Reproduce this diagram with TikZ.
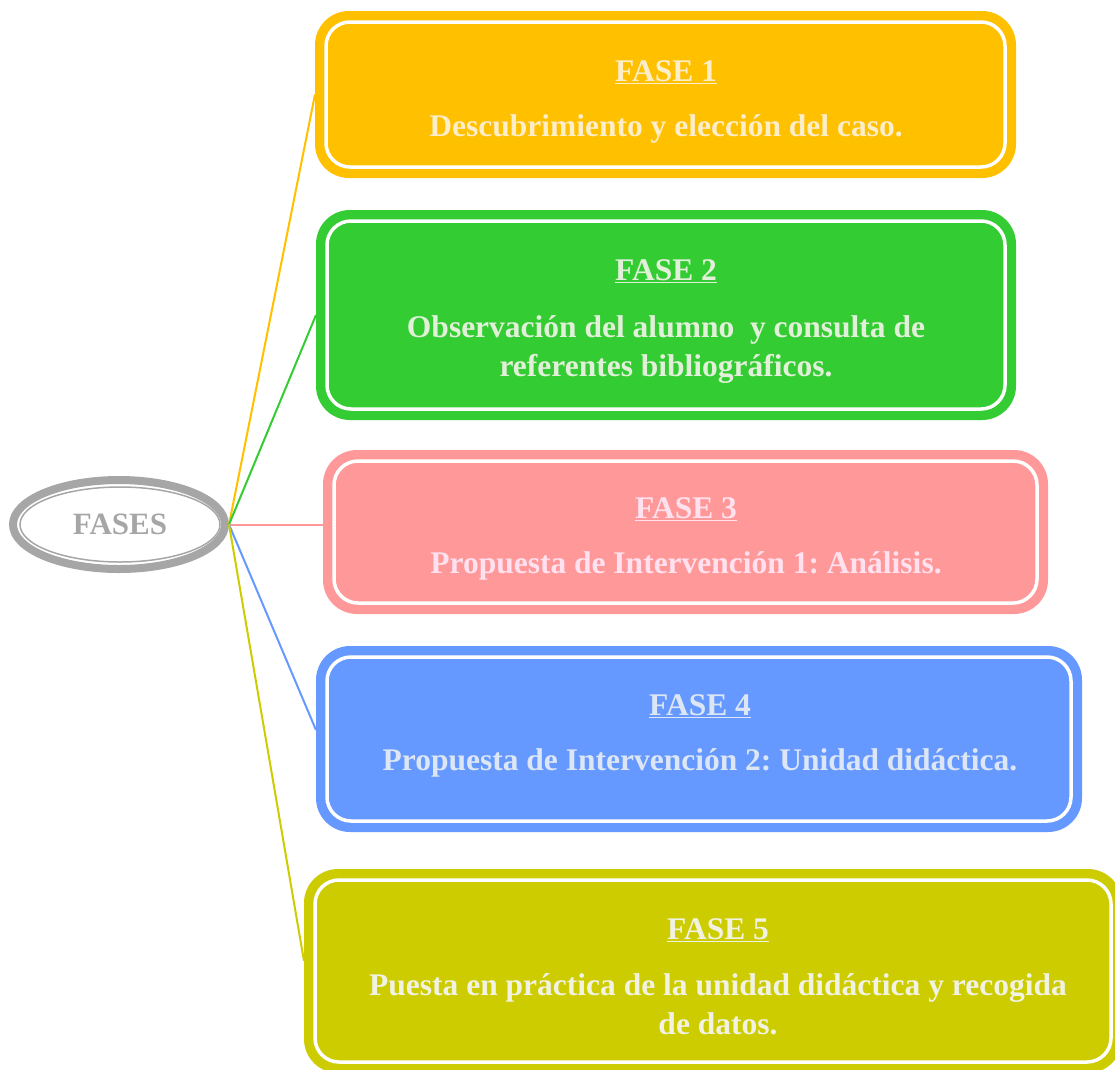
\documentclass[tikz,border=0pt]{standalone}
\usepackage{fontspec}
\setmainfont{Liberation Serif}
\usetikzlibrary{shapes.geometric}
\frenchspacing
\definecolor{grayc}{HTML}{A6A6A6}
\definecolor{cA}{HTML}{FFC000}\definecolor{tA}{HTML}{FDEDC8}
\definecolor{cB}{HTML}{33CC33}\definecolor{tB}{HTML}{E2F0D9}
\definecolor{cC}{HTML}{FF9999}\definecolor{tC}{HTML}{FFE1F0}
\definecolor{cD}{HTML}{6699FF}\definecolor{tD}{HTML}{DCE6F4}
\definecolor{cE}{HTML}{CCCC00}\definecolor{tE}{HTML}{F2F2E2}
\tikzset{
  phasebox/.style={rectangle, rounded corners=34pt, inner sep=0pt, outer sep=0pt, fill=#1},
  innerline/.style={draw=white, line width=3.5pt, rounded corners=24pt},
  phasetext/.style={align=center, text=#1, font=\fontsize{31.5}{39}\selectfont\bfseries, inner sep=0pt},
  link/.style={draw=#1, line width=2pt},
}
\begin{document}
\begin{tikzpicture}[x=1pt,y=-1pt]
\useasboundingbox (0,0) rectangle (1115,1069);
% central ellipse
\node[ellipse, draw=grayc, line width=8pt, minimum width=212pt, minimum height=89pt, inner sep=0pt] (fases) at (119,524.5) {};
\node[ellipse, draw=grayc, line width=1.5pt, minimum width=200pt, minimum height=75pt, inner sep=0pt, text=grayc, font=\fontsize{31}{36}\selectfont\bfseries] (fasesin) at (120,524.5) {FASES};
% boxes
\node[phasebox=cA, minimum width=701pt, minimum height=167pt] (b1) at (665.5,94.5) {};
\node[phasebox=cB, minimum width=700pt, minimum height=210pt] (b2) at (666,315) {};
\node[phasebox=cC, minimum width=725pt, minimum height=164pt] (b3) at (685.5,532) {};
\node[phasebox=cD, minimum width=766pt, minimum height=186pt] (b4) at (699,739) {};
\node[phasebox=cE, minimum width=818pt, minimum height=204pt] (b5) at (713,971) {};
\foreach \b in {b1,b2,b3,b4,b5}{
  \draw[innerline] ([xshift=11pt,yshift=-11pt]\b.north west) rectangle ([xshift=-11pt,yshift=11pt]\b.south east);
}
% texts
\node[phasetext=tA] (t1) at (666,102) {\underline{FASE 1}\\[16pt]Descubrimiento y elección del caso.};
\node[phasetext=tB] (t2) at (666,322) {\underline{FASE 2}\\[18pt]Observación del alumno\ \ y consulta de\\referentes bibliográficos.};
\node[phasetext=tC] (t3) at (686,539) {\underline{FASE 3}\\[16pt]Propuesta de Intervención 1: Análisis.};
\node[phasetext=tD] (t4) at (700,736) {\underline{FASE 4}\\[16pt]Propuesta de Intervención 2: Unidad didáctica.};
\node[phasetext=tE] (t5) at (718,977) {\underline{FASE 5}\\[17pt]Puesta en práctica de la unidad didáctica y recogida\\de datos.};
% connectors
\draw[link=cA] (fases.east) -- (b1.west);
\draw[link=cB] (fases.east) -- (b2.west);
\draw[link=cC] (fases.east) -- (fases.east -| b3.west);
\draw[link=cD] (fases.east) -- ([yshift=9pt]b4.west);
\draw[link=cE] (fases.east) -- ([yshift=10pt]b5.west);
\end{tikzpicture}
\end{document}
